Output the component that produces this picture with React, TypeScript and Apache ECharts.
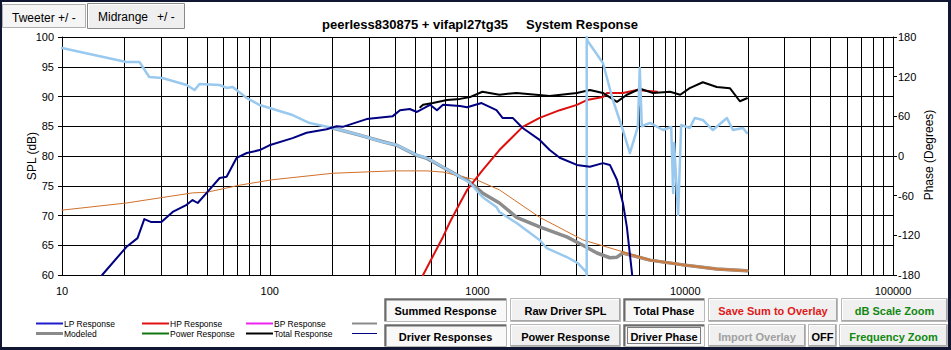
import React, { useEffect, useRef } from 'react';
import * as echarts from 'echarts';

const FONT = '"Liberation Sans", Arial, Helvetica, sans-serif';

// ---- axes ----
const FREQ_MIN = 10;
const FREQ_MAX = 100000;
const SPL_MIN = 60;
const SPL_MAX = 100;
const SPL_STEP = 5;
const PHASE_MIN = -180;
const PHASE_MAX = 180;
const PHASE_STEP = 60;
const DECADES = [10, 100, 1000, 10000];
const DECADE_STEPS = [2, 3, 4, 5, 6, 7, 8, 9];

// ---- series values: [frequency Hz, value] ----
const lpResponse: [number, number][] = [
  [14.5, 57], [15.6, 60], [20.4, 64.7], [23.1, 66.2], [24.9, 69.4], [26.9, 68.9], [30.1, 68.9],
  [34.1, 70.6], [39.8, 71.8], [42.5, 72.6], [45, 72.1], [49.7, 73.8], [57.4, 76.3], [62, 76.5],
  [69.3, 79.7], [77.5, 80.5], [89.5, 81.0], [99.6, 81.8], [128.8, 83.0], [150.4, 83.9],
  [187.8, 84.5], [209.8, 85.0], [224.6, 84.9], [292.5, 86.2], [391, 86.7], [423.5, 87.7],
  [472, 87.9], [511, 87.4], [591, 88.6], [638, 87.7], [682, 88.6], [824, 88.4], [891, 88.2],
  [1046, 88.9], [1234, 87.7], [1320, 86.4], [1477, 86.4], [1650, 84.7], [1991, 82.7],
  [2226, 81.0], [2488, 79.7], [3008, 78.5], [3474, 78.2], [4016, 78.8], [4338, 78.5],
  [4690, 76.0], [5011, 72.1], [5235, 68.1], [5541, 60.3], [5620, 58],
];

const hpResponse: [number, number][] = [
  [530, 56], [547, 60], [682, 66.4], [737, 68.9], [824, 72.1], [891, 74.3], [1056, 77.6],
  [1275, 81.0], [1650, 84.9], [1991, 86.4], [2488, 87.7], [3008, 88.6], [3359, 89.4],
  [4016, 89.9], [4200, 90.6], [5011, 90.6], [5856, 91.1], [7316, 90.8],
];

const totalResponse: [number, number][] = [
  [530, 88.2], [547, 88.6], [610, 88.9], [713, 89.4], [824, 89.6], [920, 89.9], [1056, 90.8],
  [1275, 90.3], [1542, 90.6], [2226, 90.1], [3008, 90.6], [3474, 91.1], [4016, 90.6],
  [4690, 89.1], [5235, 90.3], [6058, 91.3], [7000, 90.6], [8450, 90.8], [9457, 90.3],
  [10510, 91.4], [12150, 92.4], [14180, 91.6], [16400, 91.4], [18320, 89.2], [19810, 89.7],
];

const modeled: [number, number][] = [
  [201, 84.7], [270.9, 83.5], [350.7, 82.4], [408.8, 81.8], [511, 80.1], [571, 79.6],
  [682, 78.1], [824, 76.5], [891, 76.0], [1056, 73.8], [1275, 72.1], [1542, 69.7],
  [1991, 68.1], [2690, 66.4], [3214, 65.0], [3757, 63.7], [4338, 62.9], [4690, 63.0],
  [5011, 63.7], [6770, 62.5], [9770, 61.7], [14180, 61.0], [19810, 60.7],
];

const overlay: [number, number][] = [
  [10, 70.9], [20.4, 72.1], [42.5, 73.8], [49.7, 73.9], [71.7, 75.1], [102.5, 76.0],
  [201, 77.1], [391, 77.5], [571, 77.5], [682, 77.3], [824, 76.6], [990, 76.0], [1275, 74.3],
  [1991, 69.7], [3214, 65.9], [5011, 63.9], [6770, 62.5], [9770, 61.7], [14180, 61.0],
  [19810, 60.7],
];

// phase in degrees (right axis)
const driverPhase: [number, number][] = [
  [10, 163.4], [20.4, 142.2], [23.6, 142.2], [26.3, 119.5], [30.4, 118], [39.8, 107.4],
  [43.5, 99.8], [45.9, 108.9], [57.4, 107.4], [62, 102.9], [66.3, 104.4], [77.5, 87.7],
  [89.5, 77.1], [128.8, 62.0], [155.7, 49.9], [201, 42.4], [270.9, 31.8], [350.7, 21.2],
  [408.8, 16.6], [511, 1.5], [571, -3.0], [682, -16.6], [824, -31.8], [920, -40.8],
  [1056, -62.0], [1233, -77.1], [1275, -84.7], [1542, -101.3], [1990, -127.1],
  [2152, -139.2], [2690, -152.8], [3041, -161.9], [3340, -175.5], [3355, -180], [3355, 180],
  [3390, 174], [4016, 140.7], [4484, 84.7], [5011, 39.3], [5415, 4.5], [5912, 43.9],
  [6040, 133], [6180, 45], [6770, 50], [7817, 39.3], [8558, 43.9], [8744, -56],
  [8842, 19.7], [9242, -89], [9555, 47], [10510, 42.4], [11110, 57.5], [12150, 54.5],
  [13580, 39.3], [15870, 57.5], [16960, 39.3], [18950, 42.4], [19810, 34.8],
];

const TITLE_LEFT = 'peerless830875 + vifapl27tg35';
const TITLE_RIGHT = 'System Response';

const LEGEND_ROW1 = [
  { label: 'LP Response', color: '#1c1ccc', width: 2 },
  { label: 'HP Response', color: '#e01010', width: 2 },
  { label: 'BP Response', color: '#ee22ee', width: 2 },
];
const LEGEND_ROW2 = [
  { label: 'Modeled', color: '#8a8a8a', width: 3 },
  { label: 'Power Response', color: '#117711', width: 2 },
  { label: 'Total Response', color: '#000000', width: 2 },
];

const BUTTONS = [
  { x0: 384, x1: 507, row: 0, label: 'Summed Response', color: '#000', pressed: true },
  { x0: 510, x1: 621, row: 0, label: 'Raw Driver SPL', color: '#000' },
  { x0: 623, x1: 705, row: 0, label: 'Total Phase', color: '#000', pressed: true },
  { x0: 708, x1: 838, row: 0, label: 'Save Sum to Overlay', color: '#e01818' },
  { x0: 841, x1: 948, row: 0, label: 'dB Scale Zoom', color: '#118811' },
  { x0: 384, x1: 507, row: 1, label: 'Driver Responses', color: '#000', pressed: true },
  { x0: 510, x1: 621, row: 1, label: 'Power Response', color: '#000' },
  { x0: 623, x1: 705, row: 1, label: 'Driver Phase', color: '#000', pressed: true, focus: true },
  { x0: 708, x1: 806, row: 1, label: 'Import Overlay', color: '#a0a0a0' },
  { x0: 808, x1: 837, row: 1, label: 'OFF', color: '#000' },
  { x0: 839, x1: 948, row: 1, label: 'Frequency Zoom', color: '#118811' },
];

function text(x: number, y: number, t: string, o: any = {}) {
  const align = o.align || 'left';
  const valign = o.valign || 'middle';
  return {
    type: 'text',
    x,
    y,
    rotation: o.rotation || 0,
    silent: true,
    z: 10,
    style: {
      text: t,
      fill: o.fill || '#000',
      fontSize: o.size || 11,
      fontWeight: o.weight || 'normal',
      fontFamily: FONT,
      align,
      verticalAlign: valign,
      textAlign: align,
      textVerticalAlign: valign,
    },
  };
}

function buildGraphics() {
  const els: any[] = [];
  // title
  els.push(text(322, 24, TITLE_LEFT, { size: 13, weight: 'bold' }));
  els.push(text(526, 24, TITLE_RIGHT, { size: 13, weight: 'bold' }));
  // axis names
  els.push(text(32, 156, 'SPL (dB)', { size: 12, align: 'center', rotation: Math.PI / 2 }));
  els.push(text(929, 155, 'Phase (Degrees)', { size: 12, align: 'center', rotation: Math.PI / 2 }));

  // tabs
  els.push({ type: 'rect', z: 9, shape: { x: 2.5, y: 4.5, width: 83, height: 23 }, style: { fill: '#f5f5f5', stroke: '#b0b0b0', lineWidth: 1 } });
  els.push({ type: 'rect', z: 9, shape: { x: 87.5, y: 3.5, width: 97, height: 25 }, style: { fill: '#efefef', stroke: '#8a8a8a', lineWidth: 1 } });
  els.push({ type: 'polyline', z: 9, shape: { points: [[88.5, 27.5], [88.5, 4.5], [183.5, 4.5]] }, style: { stroke: '#ffffff', lineWidth: 1 } });
  els.push(text(12, 18, 'Tweeter +/ -', { size: 12 }));
  els.push(text(98, 17, 'Midrange', { size: 12 }));
  els.push(text(157, 17, '+/ -', { size: 12 }));

  // legend
  const cols = [36, 142, 246];
  [LEGEND_ROW1, LEGEND_ROW2].forEach((row, ri) => {
    const y = ri === 0 ? 323.5 : 333.5;
    row.forEach((item, ci) => {
      const lx = cols[ci];
      els.push({ type: 'line', z: 9, shape: { x1: lx, y1: y, x2: lx + 27, y2: y }, style: { stroke: item.color, lineWidth: item.width } });
      els.push(text(lx + 28, y, item.label, { size: 8.5 }));
    });
  });
  els.push({ type: 'line', z: 9, shape: { x1: 352, y1: 323.5, x2: 377, y2: 323.5 }, style: { stroke: '#8a8a8a', lineWidth: 2 } });
  els.push({ type: 'line', z: 9, shape: { x1: 352, y1: 333.5, x2: 377, y2: 333.5 }, style: { stroke: '#000080', lineWidth: 1 } });

  // buttons
  BUTTONS.forEach((b: any) => {
    const y0 = b.row === 0 ? 298 : 324;
    const h = b.row === 0 ? 24 : 23;
    const w = b.x1 - b.x0;
    els.push({ type: 'rect', z: 9, shape: { x: b.x0 + 0.5, y: y0 + 0.5, width: w - 1, height: h - 1 }, style: { fill: b.pressed ? '#f8f8f8' : '#f0f0f0', stroke: '#b8b8b8', lineWidth: 1 } });
    if (b.pressed) {
      els.push({ type: 'polyline', z: 9, shape: { points: [[b.x0 + 1.5, y0 + h - 1], [b.x0 + 1.5, y0 + 1.5], [b.x1 - 1, y0 + 1.5]] }, style: { stroke: '#6a6a6a', lineWidth: 2 } });
    } else {
      els.push({ type: 'polyline', z: 9, shape: { points: [[b.x0 + 1, y0 + h - 1.5], [b.x1 - 1.5, y0 + h - 1.5], [b.x1 - 1.5, y0 + 1]] }, style: { stroke: '#a6a6a6', lineWidth: 1 } });
      els.push({ type: 'polyline', z: 9, shape: { points: [[b.x0 + 1.5, y0 + h - 2], [b.x0 + 1.5, y0 + 1.5], [b.x1 - 2, y0 + 1.5]] }, style: { stroke: '#ffffff', lineWidth: 1 } });
    }
    if (b.focus) {
      els.push({ type: 'rect', z: 9, shape: { x: b.x0 + 4.5, y: y0 + 3.5, width: w - 9, height: h - 7 }, style: { fill: 'none', stroke: '#000', lineWidth: 1, lineDash: [1, 1] } });
    }
    els.push(text((b.x0 + b.x1) / 2, y0 + h / 2 + 1, b.label, { size: 11, weight: 'bold', fill: b.color, align: 'center' }));
  });

  // window border
  const bc = '#111633';
  els.push({ type: 'rect', z: 11, shape: { x: 0, y: 0, width: 951, height: 2 }, style: { fill: bc } });
  els.push({ type: 'rect', z: 11, shape: { x: 0, y: 0, width: 2, height: 350 }, style: { fill: bc } });
  els.push({ type: 'rect', z: 11, shape: { x: 948, y: 0, width: 3, height: 350 }, style: { fill: bc } });
  els.push({ type: 'rect', z: 11, shape: { x: 0, y: 347, width: 951, height: 3 }, style: { fill: bc } });
  return els;
}

const lineSeries = (name: string, data: [number, number][], color: string, width: number, yAxisIndex = 0) => ({
  name,
  type: 'line',
  data,
  yAxisIndex,
  showSymbol: false,
  symbol: 'none',
  silent: true,
  clip: true,
  lineStyle: { color, width, join: 'round', cap: 'round' },
});

export default function App() {
  const ref = useRef<HTMLDivElement>(null);
  useEffect(() => {
    if (!ref.current) return;
    const chart = echarts.init(ref.current, undefined, { renderer: 'svg' });
    const minorGrid: number[] = [];
    DECADES.forEach((d) => DECADE_STEPS.forEach((s) => minorGrid.push(d * s)));
    const tan = modeled.filter((p) => p[0] >= 5011);
    const axisLabel = { color: '#000', fontSize: 11, fontFamily: FONT };
    chart.setOption({
      animation: false,
      backgroundColor: '#ffffff',
      grid: { left: 62, right: 58, top: 37, bottom: 75, containLabel: false },
      xAxis: {
        type: 'log',
        logBase: 10,
        min: FREQ_MIN,
        max: FREQ_MAX,
        axisLine: { show: true, lineStyle: { color: '#000', width: 1 } },
        axisTick: { show: false },
        splitLine: { show: true, lineStyle: { color: '#000', width: 1 } },
        axisLabel: { ...axisLabel, margin: 10, formatter: (v: number) => String(Math.round(v)) },
      },
      yAxis: [
        {
          type: 'value',
          min: SPL_MIN,
          max: SPL_MAX,
          interval: SPL_STEP,
          position: 'left',
          axisLine: { show: true, lineStyle: { color: '#000', width: 1 } },
          axisTick: { show: true, length: 4, lineStyle: { color: '#000' } },
          splitLine: { show: true, lineStyle: { color: '#000', width: 1 } },
          axisLabel: { ...axisLabel, margin: 8 },
        },
        {
          type: 'value',
          min: PHASE_MIN,
          max: PHASE_MAX,
          interval: PHASE_STEP,
          position: 'right',
          axisLine: { show: true, lineStyle: { color: '#000', width: 1 } },
          axisTick: { show: true, length: 4, lineStyle: { color: '#000' } },
          splitLine: { show: false },
          axisLabel: { ...axisLabel, margin: 5 },
        },
      ],
      series: [
        {
          name: 'grid',
          type: 'line',
          data: [],
          silent: true,
          markLine: {
            z: 1,
            silent: true,
            symbol: ['none', 'none'],
            label: { show: false },
            lineStyle: { color: '#000', width: 1, type: 'solid' },
            emphasis: { disabled: true },
            data: minorGrid.map((v) => ({ xAxis: v })),
          },
        },
        lineSeries('Modeled', modeled, '#8c8c8c', 3.5),
        lineSeries('Modeled overlap', tan, '#bf8d68', 3),
        lineSeries('Overlay', overlay, '#d0702a', 1),
        lineSeries('HP Response', hpResponse, '#dd1010', 2),
        lineSeries('Total Response', totalResponse, '#000000', 2),
        lineSeries('Driver Phase', driverPhase, '#99c9ee', 2.5, 1),
        lineSeries('LP Response', lpResponse, '#000080', 2),
      ],
      graphic: { elements: buildGraphics() },
    });
    return () => chart.dispose();
  }, []);
  return (
    <div
      ref={ref}
      style={{ position: 'fixed', left: 0, top: 0, width: 951, height: 350, background: '#fff' }}
    />
  );
}
